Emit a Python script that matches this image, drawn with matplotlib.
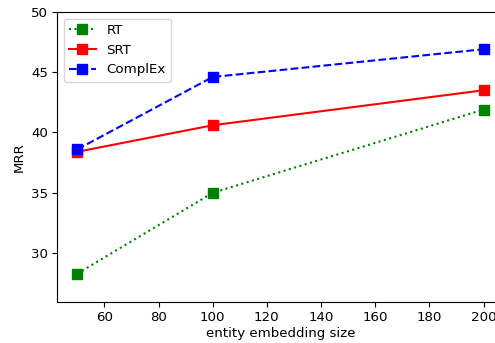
import matplotlib
matplotlib.use("Agg")
import matplotlib.pyplot as plt

sizes = [50, 100, 200]
rt = [28.3, 35.0, 41.9]
srt = [38.4, 40.6, 43.5]
complex_ = [38.6, 44.6, 46.9]

plt.rcParams['font.size'] = 9.6
fig = plt.figure(figsize=(4.95, 3.43), dpi=100)
ax = fig.add_axes([0.115, 0.1195, 0.903, 0.846])
ax.plot(sizes, rt, color='green', linestyle=':', marker='s', markersize=7, linewidth=1.5, label='RT')
ax.plot(sizes, srt, color='red', linestyle='-', marker='s', markersize=7, linewidth=1.5, label='SRT')
ax.plot(sizes, complex_, color='blue', linestyle='--', marker='s', markersize=7, linewidth=1.5, label='ComplEx')
ax.set_xlim(42.5, 207.5)
ax.set_ylim(25.95, 50)
ax.set_xticks([60, 80, 100, 120, 140, 160, 180, 200])
ax.set_yticks([30, 35, 40, 45, 50])
ax.spines['right'].set_visible(False)
ax.tick_params(pad=3)
ax.set_xlabel('entity embedding size', labelpad=2)
ax.set_ylabel('MRR')
ax.legend(loc='upper left')
fig.savefig('out.png', dpi=100)
